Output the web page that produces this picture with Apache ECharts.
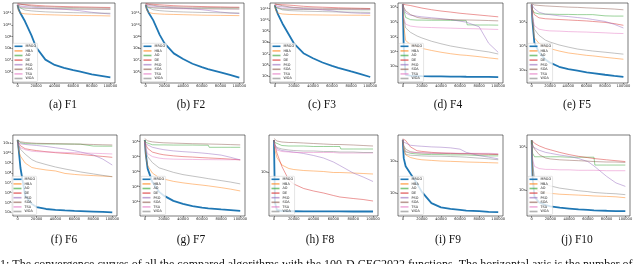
<!DOCTYPE html>
<html><head><meta charset="utf-8">
<script src="https://cdn.jsdelivr.net/npm/echarts@6/dist/echarts.min.js"></script>
<style>html,body{margin:0;padding:0;background:#fff}#c{width:640px;height:264px}</style>
</head><body><div id="c"></div>
<script>
// Iterations (x values shared by all curves)
const X = [0, 1000, 3000, 8000, 15000, 20000, 30000, 40000, 50000, 60000, 66500, 67500, 80000, 90000, 100000];
const NAMES = ['MRGO','HBA','AO','DE','PSO','SOA','TSA','WOA'];
const X_TICKS = [0, 20000, 40000, 60000, 80000, 100000];
// Best fitness values, stored as log10 (the axis is logarithmic)
const F1_MRGO = [11.68, 11.35, 11.0, 10.3, 9.1, 8.1, 7.05, 6.6, 6.36, 6.17, 6.05, 6.03, 5.8, 5.68, 5.55];
const F1_HBA  = [11.68, 11.2, 11.0, 10.93, 10.9, 10.88, 10.86, 10.84, 10.82, 10.8, 10.79, 10.79, 10.78, 10.77, 10.75];
const F1_AO   = [11.7, 11.55, 11.45, 11.42, 11.4, 11.39, 11.38, 11.37, 11.36, 11.35, 11.34, 11.34, 11.33, 11.32, 11.31];
const F1_DE   = [11.76, 11.75, 11.74, 11.72, 11.68, 11.65, 11.6, 11.57, 11.55, 11.53, 11.52, 11.52, 11.5, 11.48, 11.47];
const F1_PSO  = [11.7, 11.65, 11.6, 11.55, 11.5, 11.47, 11.42, 11.37, 11.32, 11.25, 11.2, 11.19, 11.06, 10.98, 10.92];
const F1_SOA  = [11.8, 11.78, 11.75, 11.68, 11.6, 11.56, 11.52, 11.5, 11.48, 11.46, 11.45, 11.45, 11.43, 11.42, 11.4];
const F1_TSA  = [11.76, 11.65, 11.55, 11.45, 11.38, 11.36, 11.35, 11.34, 11.33, 11.33, 11.32, 11.32, 11.32, 11.31, 11.31];
const F1_WOA  = [11.7, 11.5, 11.35, 11.25, 11.18, 11.15, 11.1, 11.07, 11.05, 11.03, 11.02, 11.02, 11.0, 10.99, 10.98];
const F1_TICKS = [6, 7, 8, 9, 10, 11];

const F2_MRGO = [11.68, 11.4, 11.05, 10.4, 9.15, 8.45, 7.58, 7.1, 6.7, 6.42, 6.25, 6.23, 5.97, 5.75, 5.52];
const F2_HBA  = [11.7, 11.25, 11.05, 10.96, 10.92, 10.9, 10.88, 10.86, 10.84, 10.82, 10.81, 10.81, 10.8, 10.79, 10.78];
const F2_AO   = [11.72, 11.58, 11.48, 11.44, 11.42, 11.41, 11.4, 11.39, 11.38, 11.37, 11.37, 11.37, 11.36, 11.36, 11.35];
const F2_DE   = [11.78, 11.77, 11.76, 11.74, 11.7, 11.67, 11.62, 11.59, 11.57, 11.55, 11.54, 11.54, 11.52, 11.5, 11.49];
const F2_PSO  = [11.72, 11.68, 11.63, 11.58, 11.53, 11.5, 11.45, 11.4, 11.35, 11.28, 11.22, 11.21, 11.08, 11.0, 10.96];
const F2_SOA  = [11.8, 11.78, 11.74, 11.66, 11.58, 11.55, 11.52, 11.5, 11.49, 11.48, 11.47, 11.47, 11.46, 11.45, 11.45];
const F2_TSA  = [11.78, 11.66, 11.55, 11.46, 11.4, 11.38, 11.37, 11.36, 11.35, 11.35, 11.34, 11.34, 11.34, 11.33, 11.33];
const F2_WOA  = [11.72, 11.52, 11.38, 11.28, 11.2, 11.17, 11.12, 11.09, 11.07, 11.05, 11.04, 11.04, 11.02, 11.01, 11.0];
const F2_TICKS = [6, 7, 8, 9, 10, 11];

const F3_MRGO = [11.29, 11.0, 10.56, 9.68, 8.66, 7.93, 7.05, 6.61, 6.23, 5.94, 5.76, 5.74, 5.44, 5.21, 4.95];
const F3_HBA  = [11.29, 10.8, 10.6, 10.52, 10.48, 10.47, 10.45, 10.44, 10.43, 10.42, 10.42, 10.42, 10.41, 10.41, 10.4];
const F3_AO   = [11.3, 11.1, 11.0, 10.96, 10.94, 10.93, 10.92, 10.92, 10.91, 10.91, 10.9, 10.9, 10.9, 10.89, 10.89];
const F3_DE   = [11.38, 11.37, 11.36, 11.34, 11.3, 11.27, 11.2, 11.15, 11.12, 11.09, 11.07, 11.07, 11.04, 11.02, 11.0];
const F3_PSO  = [11.3, 11.25, 11.2, 11.15, 11.1, 11.06, 11.0, 10.95, 10.88, 10.8, 10.72, 10.71, 10.62, 10.58, 10.56];
const F3_SOA  = [11.42, 11.4, 11.35, 11.25, 11.15, 11.1, 11.06, 11.04, 11.02, 11.01, 11.0, 11.0, 10.99, 10.98, 10.97];
const F3_TSA  = [11.38, 11.25, 11.1, 11.0, 10.95, 10.94, 10.93, 10.93, 10.92, 10.92, 10.92, 10.92, 10.91, 10.91, 10.91];
const F3_WOA  = [11.3, 11.1, 10.95, 10.88, 10.82, 10.8, 10.77, 10.75, 10.73, 10.71, 10.7, 10.7, 10.68, 10.67, 10.66];
const F3_TICKS = [5, 6, 7, 8, 9, 10, 11];

const F4_MRGO = [4.18, 1.3, -0.56, -0.62, -0.64, -0.65, -0.66, -0.67, -0.68, -0.68, -0.69, -0.69, -0.7, -0.7, -0.71];
const F4_HBA  = [4.18, 2.8, 1.75, 1.48, 1.32, 1.22, 1.08, 0.96, 0.86, 0.78, 0.75, 0.74, 0.66, 0.58, 0.51];
const F4_AO   = [4.18, 3.8, 3.3, 3.15, 3.12, 3.12, 3.11, 3.11, 3.1, 3.09, 3.08, 2.8, 2.79, 2.79, 2.78];
const F4_DE   = [4.2, 4.18, 4.15, 4.1, 4.0, 3.93, 3.82, 3.73, 3.66, 3.58, 3.54, 3.54, 3.46, 3.4, 3.34];
const F4_PSO  = [4.18, 3.9, 3.6, 3.45, 3.38, 3.34, 3.28, 3.22, 3.15, 3.05, 2.98, 2.97, 2.67, 1.56, 0.95];
const F4_SOA  = [4.18, 4.0, 3.75, 3.5, 3.3, 3.25, 3.2, 3.18, 3.16, 3.14, 3.13, 3.13, 3.11, 3.09, 3.07];
const F4_TSA  = [4.18, 3.3, 2.85, 2.72, 2.66, 2.64, 2.62, 2.6, 2.58, 2.56, 2.55, 2.55, 2.53, 2.51, 2.49];
const F4_WOA  = [4.18, 3.2, 2.6, 2.3, 2.05, 1.92, 1.7, 1.53, 1.38, 1.27, 1.2, 1.19, 1.07, 0.98, 0.84];
const F4_TICKS = [0, 1, 2, 3, 4];

const F5_MRGO = [4.72, 4.0, 3.15, 2.75, 2.45, 2.32, 2.15, 2.05, 1.99, 1.92, 1.89, 1.89, 1.82, 1.77, 1.73];
const F5_HBA  = [4.72, 4.1, 3.35, 3.12, 2.97, 2.9, 2.8, 2.72, 2.67, 2.62, 2.6, 2.6, 2.54, 2.5, 2.46];
const F5_AO   = [4.72, 4.5, 4.38, 4.33, 4.32, 4.32, 4.31, 4.31, 4.3, 4.3, 4.3, 4.25, 4.25, 4.24, 4.24];
const F5_DE   = [4.72, 4.5, 4.3, 4.17, 4.13, 4.12, 4.1, 4.08, 4.06, 4.04, 4.02, 4.02, 3.98, 3.93, 3.86];
const F5_PSO  = [4.72, 4.65, 4.55, 4.4, 4.32, 4.3, 4.25, 4.22, 4.18, 4.14, 4.1, 4.09, 4.02, 3.9, 3.75];
const F5_SOA  = [4.75, 4.72, 4.7, 4.68, 4.66, 4.65, 4.63, 4.61, 4.6, 4.58, 4.57, 4.57, 4.55, 4.53, 4.5];
const F5_TSA  = [4.72, 4.2, 3.85, 3.7, 3.65, 3.63, 3.62, 3.6, 3.59, 3.58, 3.57, 3.57, 3.55, 3.53, 3.52];
const F5_WOA  = [4.72, 4.2, 3.7, 3.45, 3.25, 3.17, 3.05, 2.96, 2.88, 2.83, 2.8, 2.8, 2.75, 2.71, 2.67];
const F5_TICKS = [2, 3, 4];

const F6_MRGO = [11.34, 10.5, 8.5, 5.7, 4.85, 4.55, 4.35, 4.25, 4.2, 4.16, 4.14, 4.14, 4.09, 4.05, 4.0];
const F6_HBA  = [11.34, 10.3, 9.7, 9.0, 8.55, 8.45, 8.3, 8.2, 7.95, 7.85, 7.8, 7.8, 7.73, 7.68, 7.62];
const F6_AO   = [11.34, 11.2, 11.05, 10.97, 10.95, 10.94, 10.93, 10.93, 10.92, 10.92, 10.91, 10.72, 10.72, 10.71, 10.71];
const F6_DE   = [11.2, 11.0, 10.75, 10.45, 10.33, 10.26, 10.15, 10.05, 9.98, 9.92, 9.87, 9.86, 9.75, 9.67, 9.58];
const F6_PSO  = [11.1, 11.0, 10.95, 10.88, 10.82, 10.78, 10.68, 10.55, 10.42, 10.25, 10.12, 10.1, 9.82, 9.4, 8.8];
const F6_SOA  = [11.34, 11.25, 11.15, 11.08, 11.03, 11.0, 10.98, 10.96, 10.94, 10.92, 10.91, 10.91, 10.88, 10.85, 10.83];
const F6_TSA  = [11.0, 10.8, 10.55, 10.35, 10.2, 10.16, 10.12, 10.1, 10.07, 10.05, 10.03, 10.03, 9.99, 9.96, 9.92];
const F6_WOA  = [11.34, 10.8, 10.4, 9.9, 9.35, 9.12, 8.85, 8.6, 8.4, 8.22, 8.1, 8.08, 7.9, 7.75, 7.62];
const F6_TICKS = [4, 5, 6, 7, 8, 9, 10, 11];

const F7_MRGO = [5.11, 4.2, 3.2, 2.3, 1.65, 1.4, 1.05, 0.85, 0.7, 0.6, 0.55, 0.55, 0.48, 0.43, 0.38];
const F7_HBA  = [5.11, 4.0, 3.4, 2.9, 2.6, 2.5, 2.35, 2.25, 2.17, 2.1, 2.05, 2.04, 1.93, 1.83, 1.71];
const F7_AO   = [5.11, 4.95, 4.85, 4.79, 4.78, 4.78, 4.77, 4.77, 4.77, 4.76, 4.76, 4.62, 4.62, 4.62, 4.62];
const F7_DE   = [5.0, 4.8, 4.55, 4.3, 4.18, 4.12, 4.05, 4.0, 3.97, 3.93, 3.91, 3.91, 3.87, 3.83, 3.78];
const F7_PSO  = [5.0, 4.85, 4.75, 4.62, 4.52, 4.46, 4.38, 4.33, 4.29, 4.24, 4.2, 4.2, 4.1, 3.95, 3.78];
const F7_SOA  = [5.2, 5.1, 5.05, 4.98, 4.94, 4.92, 4.9, 4.88, 4.86, 4.85, 4.84, 4.84, 4.82, 4.8, 4.78];
const F7_TSA  = [5.0, 4.6, 4.2, 4.0, 3.9, 3.86, 3.83, 3.82, 3.81, 3.8, 3.8, 3.8, 3.79, 3.79, 3.8];
const F7_WOA  = [5.11, 4.4, 4.0, 3.6, 3.25, 3.15, 2.95, 2.8, 2.7, 2.6, 2.53, 2.52, 2.4, 2.3, 2.18];
const F7_TICKS = [1, 2, 3, 4, 5];

const F8_MRGO = [3.65, 2.4, 2.25, 2.23, 2.225, 2.225, 2.223, 2.222, 2.222, 2.221, 2.221, 2.221, 2.22, 2.22, 2.22];
const F8_HBA  = [3.65, 3.45, 3.3, 3.15, 3.08, 3.06, 3.04, 3.03, 3.02, 3.0, 3.0, 3.0, 2.99, 2.98, 2.97];
const F8_AO   = [3.65, 3.6, 3.56, 3.54, 3.53, 3.53, 3.53, 3.52, 3.52, 3.52, 3.52, 3.47, 3.47, 3.47, 3.47];
const F8_DE   = [3.65, 3.55, 3.39, 3.12, 2.85, 2.77, 2.68, 2.63, 2.59, 2.54, 2.51, 2.51, 2.48, 2.46, 2.43];
const F8_PSO  = [3.65, 3.55, 3.48, 3.44, 3.42, 3.41, 3.38, 3.34, 3.29, 3.21, 3.14, 3.13, 2.99, 2.91, 2.82];
const F8_SOA  = [3.68, 3.65, 3.63, 3.61, 3.6, 3.6, 3.59, 3.58, 3.57, 3.56, 3.56, 3.56, 3.55, 3.54, 3.53];
const F8_TSA  = [3.6, 3.52, 3.45, 3.42, 3.41, 3.4, 3.4, 3.4, 3.4, 3.4, 3.39, 3.39, 3.39, 3.39, 3.39];
const F8_WOA  = [3.65, 3.55, 3.5, 3.47, 3.45, 3.44, 3.43, 3.43, 3.42, 3.42, 3.41, 3.41, 3.41, 3.4, 3.4];
const F8_TICKS = [3];

const F9_MRGO = [4.67, 4.1, 3.85, 3.62, 3.3, 3.05, 2.7, 2.57, 2.52, 2.49, 2.47, 2.47, 2.45, 2.43, 2.42];
const F9_HBA  = [4.67, 4.4, 4.2, 4.12, 4.07, 4.05, 4.03, 4.01, 4.0, 3.99, 3.98, 3.98, 3.97, 3.96, 3.95];
const F9_AO   = [4.67, 4.45, 4.3, 4.25, 4.23, 4.22, 4.21, 4.21, 4.2, 4.2, 4.2, 4.18, 4.18, 4.17, 4.17];
const F9_DE   = [4.7, 4.7, 4.65, 4.45, 4.33, 4.31, 4.28, 4.26, 4.25, 4.24, 4.24, 4.24, 4.23, 4.22, 4.21];
const F9_PSO  = [4.67, 4.6, 4.54, 4.5, 4.48, 4.47, 4.45, 4.44, 4.42, 4.38, 4.28, 4.26, 4.18, 4.13, 4.08];
const F9_SOA  = [4.67, 4.5, 4.38, 4.3, 4.27, 4.26, 4.25, 4.25, 4.24, 4.24, 4.24, 4.24, 4.23, 4.23, 4.22];
const F9_TSA  = [4.67, 4.4, 4.3, 4.28, 4.27, 4.27, 4.26, 4.26, 4.26, 4.25, 4.25, 4.25, 4.25, 4.25, 4.24];
const F9_WOA  = [4.67, 4.35, 4.22, 4.19, 4.18, 4.17, 4.16, 4.16, 4.15, 4.14, 4.13, 4.13, 4.1, 4.08, 4.05];
const F9_TICKS = [3, 4];

const F10_MRGO = [4.15, 3.3, 2.85, 2.72, 2.66, 2.63, 2.6, 2.58, 2.56, 2.55, 2.54, 2.54, 2.53, 2.52, 2.52];
const F10_HBA  = [4.15, 3.4, 3.05, 2.97, 2.94, 2.93, 2.91, 2.9, 2.89, 2.88, 2.87, 2.87, 2.86, 2.85, 2.83];
const F10_AO   = [4.15, 3.85, 3.77, 3.77, 3.77, 3.77, 3.77, 3.76, 3.76, 3.76, 3.76, 3.58, 3.58, 3.58, 3.58];
const F10_DE   = [4.15, 4.12, 4.08, 4.02, 3.96, 3.93, 3.87, 3.82, 3.78, 3.75, 3.73, 3.73, 3.7, 3.68, 3.66];
const F10_PSO  = [4.05, 4.0, 3.96, 3.92, 3.87, 3.85, 3.81, 3.78, 3.73, 3.66, 3.56, 3.55, 3.32, 3.17, 3.09];
const F10_SOA  = [4.15, 4.05, 3.95, 3.82, 3.74, 3.72, 3.7, 3.69, 3.68, 3.67, 3.66, 3.66, 3.65, 3.65, 3.64];
const F10_TSA  = [4.05, 3.7, 3.55, 3.5, 3.48, 3.48, 3.47, 3.47, 3.46, 3.46, 3.46, 3.46, 3.45, 3.45, 3.45];
const F10_WOA  = [4.15, 3.6, 3.3, 3.2, 3.13, 3.1, 3.05, 3.02, 2.99, 2.97, 2.95, 2.95, 2.93, 2.92, 2.9];
const F10_TICKS = [3, 4];

const CAPTIONS = ['(a) F1','(b) F2','(c) F3','(d) F4','(e) F5','(f) F6','(g) F7','(h) F8','(i) F9','(j) F10'];
const FOOTNOTE = '1: The convergence curves of all the compared algorithms with the 100-D CEC2022 functions. The horizontal axis is the number of';

const PANEL_DATA = [
  {series:[F1_MRGO,F1_HBA,F1_AO,F1_DE,F1_PSO,F1_SOA,F1_TSA,F1_WOA], ticks:F1_TICKS},
  {series:[F2_MRGO,F2_HBA,F2_AO,F2_DE,F2_PSO,F2_SOA,F2_TSA,F2_WOA], ticks:F2_TICKS},
  {series:[F3_MRGO,F3_HBA,F3_AO,F3_DE,F3_PSO,F3_SOA,F3_TSA,F3_WOA], ticks:F3_TICKS},
  {series:[F4_MRGO,F4_HBA,F4_AO,F4_DE,F4_PSO,F4_SOA,F4_TSA,F4_WOA], ticks:F4_TICKS},
  {series:[F5_MRGO,F5_HBA,F5_AO,F5_DE,F5_PSO,F5_SOA,F5_TSA,F5_WOA], ticks:F5_TICKS},
  {series:[F6_MRGO,F6_HBA,F6_AO,F6_DE,F6_PSO,F6_SOA,F6_TSA,F6_WOA], ticks:F6_TICKS},
  {series:[F7_MRGO,F7_HBA,F7_AO,F7_DE,F7_PSO,F7_SOA,F7_TSA,F7_WOA], ticks:F7_TICKS},
  {series:[F8_MRGO,F8_HBA,F8_AO,F8_DE,F8_PSO,F8_SOA,F8_TSA,F8_WOA], ticks:F8_TICKS},
  {series:[F9_MRGO,F9_HBA,F9_AO,F9_DE,F9_PSO,F9_SOA,F9_TSA,F9_WOA], ticks:F9_TICKS},
  {series:[F10_MRGO,F10_HBA,F10_AO,F10_DE,F10_PSO,F10_SOA,F10_TSA,F10_WOA], ticks:F10_TICKS}
];

// ---- layout / style ----
const COLORS = ['#1f77b4','#ff7f0e','#2ca02c','#d62728','#9467bd','#8c564b','#e377c2','#7f7f7f'];
const ALPHA = 0.6;
const LAYOUT = [
  {left:12, top:3, width:103, height:80, ymin:5.07, ymax:11.85, cx:63, cy:105},
  {left:141, top:3, width:103, height:80, ymin:5.07, ymax:11.85, cx:191, cy:105},
  {left:270, top:3, width:105, height:80, ymin:4.42, ymax:11.49, cx:322, cy:105},
  {left:398, top:3, width:105, height:80, ymin:-1.11, ymax:4.27, cx:448, cy:105},
  {left:527, top:3, width:101, height:80, ymin:1.48, ymax:4.78, cx:577, cy:105},
  {left:11, top:135, width:106, height:81, ymin:3.64, ymax:11.84, cx:64, cy:240},
  {left:140, top:135, width:105, height:81, ymin:0.04, ymax:5.44, cx:191, cy:240},
  {left:269, top:135, width:109, height:81, ymin:2.13, ymax:3.75, cx:320, cy:240},
  {left:398, top:135, width:105, height:81, ymin:2.3, ymax:4.82, cx:448, cy:240},
  {left:527, top:135, width:103, height:81, ymin:2.41, ymax:4.27, cx:577, cy:240}
];
function rgba(hex, a){const n=parseInt(hex.slice(1),16);return 'rgba('+(n>>16)+','+((n>>8)&255)+','+(n&255)+','+a+')';}

const grid=[], xAxis=[], yAxis=[], series=[], legend=[], graphic=[];
PANEL_DATA.forEach((p, i) => {
  const L = LAYOUT[i];
  grid.push({left:L.left, top:L.top, width:L.width, height:L.height, show:true, borderColor:'#222', borderWidth:0.6, backgroundColor:'transparent'});
  xAxis.push({type:'value', gridIndex:i, min:-5000, max:105000,
    axisLine:{show:false, onZero:false}, splitLine:{show:false},
    axisTick:{show:true, length:1.5, lineStyle:{color:'#222', width:0.5}, customValues:X_TICKS},
    axisLabel:{fontSize:3.6, color:'#222', margin:1.5, fontFamily:'DejaVu Sans', customValues:X_TICKS, formatter:(v)=>String(v)}});
  yAxis.push({type:'value', gridIndex:i, min:L.ymin, max:L.ymax,
    axisLine:{show:false, onZero:false}, splitLine:{show:false},
    axisTick:{show:true, length:1.5, lineStyle:{color:'#222', width:0.5}, customValues:p.ticks},
    axisLabel:{margin:1.5, customValues:p.ticks, formatter:(v)=>'{b|10}{s|'+Math.round(v)+'}',
      rich:{b:{fontSize:3.8, color:'#222', fontFamily:'DejaVu Sans', verticalAlign:'bottom'}, s:{fontSize:2.8, color:'#222', fontFamily:'DejaVu Sans', verticalAlign:'top'}}}});
  p.series.forEach((arr, k) => {
    series.push({type:'line', name:NAMES[k], xAxisIndex:i, yAxisIndex:i, showSymbol:false, silent:true,
      data: X.map((x, j) => [x, arr[j]]),
      lineStyle:{color: k===0 ? COLORS[0] : rgba(COLORS[k], ALPHA), width: k===0 ? 1.8 : 0.8},
      itemStyle:{color: COLORS[k]}, z: k===0 ? 2 : 3});
  });
  legend.push({orient:'vertical', left:L.left+1, bottom: 264-(L.top+L.height)+1.5,
    itemWidth:8, itemHeight:1.6, itemGap:0.6, padding:[1,1.5,1,1.5],
    backgroundColor:'rgba(255,255,255,0.8)', borderColor:'#ccc', borderWidth:0.5, borderRadius:1,
    textStyle:{fontSize:3.4, lineHeight:4, color:'#222', fontFamily:'DejaVu Sans', padding:[0,0,0,-2]},
    selectedMode:false,
    data: NAMES.map((n,k)=>({name:n, icon:'rect', itemStyle:{color: k===0 ? COLORS[0] : rgba(COLORS[k], ALPHA)}}))});
  graphic.push({type:'text', x:L.cx, y:L.cy, style:{text:CAPTIONS[i], fontSize:11.5, fontFamily:'Liberation Serif', fill:'#111', textAlign:'center', textVerticalAlign:'middle'}});
});
graphic.push({type:'text', x:0, y:259, style:{text:FOOTNOTE, fontSize:12, fontFamily:'Liberation Serif', fill:'#111', textAlign:'left', textVerticalAlign:'top'}});

const chart = echarts.init(document.getElementById('c'), null, {renderer:'canvas'});
chart.setOption({animation:false, backgroundColor:'#fff', grid, xAxis, yAxis, series, legend, graphic});
</script></body></html>
